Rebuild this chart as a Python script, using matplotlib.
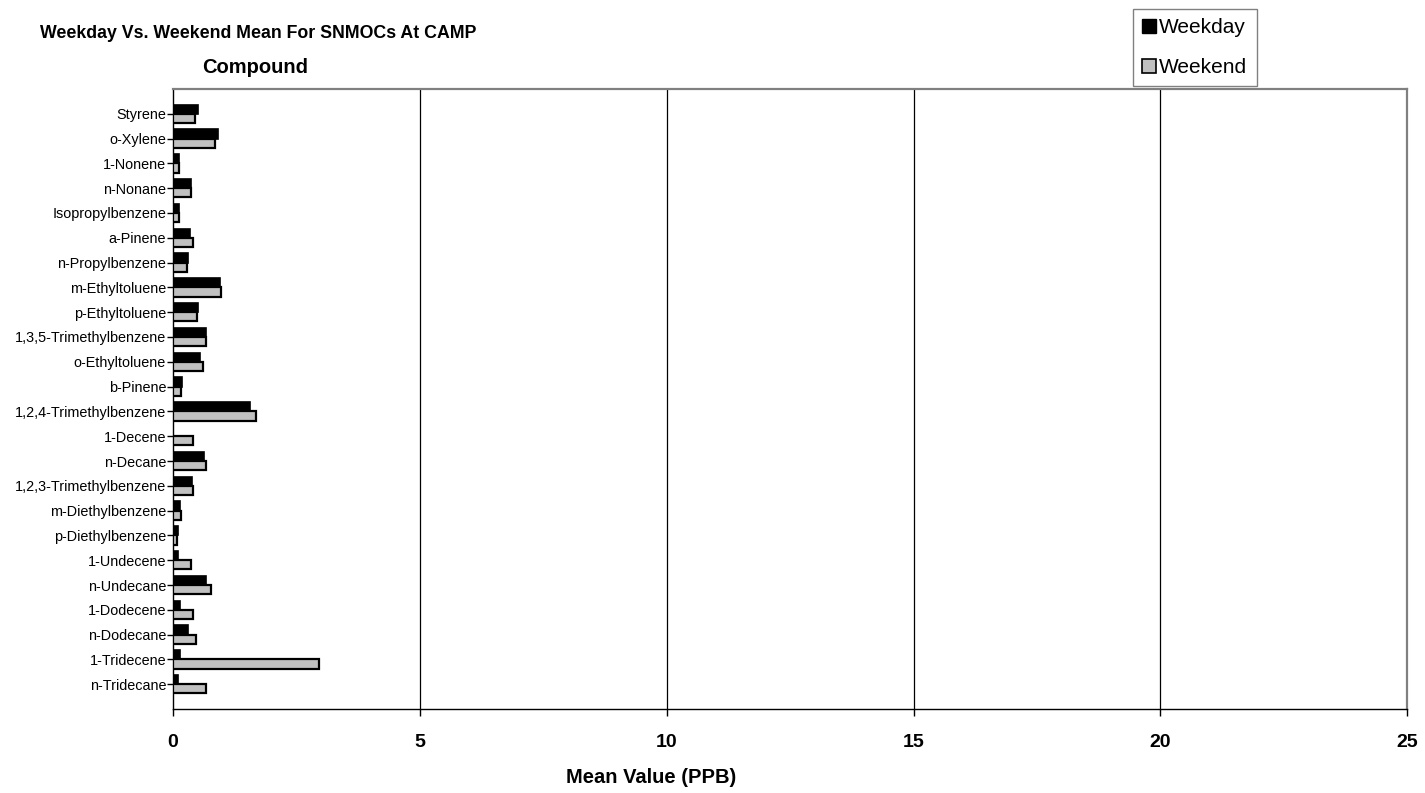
import numpy as np
import matplotlib.pyplot as plt
from matplotlib.patches import Patch

plt.rcParams["font.family"] = ["Liberation Sans", "DejaVu Sans"]

COMPOUNDS = [
    "Styrene", "o-Xylene", "1-Nonene", "n-Nonane", "Isopropylbenzene",
    "a-Pinene", "n-Propylbenzene", "m-Ethyltoluene", "p-Ethyltoluene",
    "1,3,5-Trimethylbenzene", "o-Ethyltoluene", "b-Pinene",
    "1,2,4-Trimethylbenzene", "1-Decene", "n-Decane",
    "1,2,3-Trimethylbenzene", "m-Diethylbenzene", "p-Diethylbenzene",
    "1-Undecene", "n-Undecane", "1-Dodecene", "n-Dodecane",
    "1-Tridecene", "n-Tridecane",
]

WEEKDAY = [
    0.50, 0.91, 0.13, 0.37, 0.13, 0.34, 0.30, 0.95, 0.50, 0.66, 0.54, 0.18,
    1.56, 0.00, 0.62, 0.38, 0.14, 0.10, 0.10, 0.66, 0.14, 0.30, 0.14, 0.10,
]
WEEKEND = [
    0.45, 0.86, 0.12, 0.37, 0.12, 0.41, 0.29, 0.98, 0.49, 0.66, 0.61, 0.17,
    1.68, 0.41, 0.66, 0.41, 0.17, 0.09, 0.37, 0.77, 0.41, 0.46, 2.96, 0.66,
]

X_TICKS = [0, 5, 10, 15, 20, 25]

BAR_H = 0.37


def main():
    fig = plt.figure(figsize=(14.25, 7.93), dpi=100)
    ax = fig.add_axes([0.1214, 0.1059, 0.8661, 0.7819])

    y = np.arange(len(COMPOUNDS))
    ax.barh(y - BAR_H / 2, WEEKDAY, height=BAR_H, color="black",
            edgecolor="black", linewidth=1.2, zorder=3)
    ax.barh(y + BAR_H / 2, WEEKEND, height=BAR_H, color="#c0c0c0",
            edgecolor="black", linewidth=1.6, zorder=3)

    ax.set_ylim(len(COMPOUNDS), -1)
    ax.set_yticks(y)
    ax.set_yticklabels(COMPOUNDS, fontsize=10.4)

    ax.set_xlim(0, 25)
    ax.set_xticks(X_TICKS)
    ax.set_xticklabels([str(t) for t in X_TICKS], fontsize=14, fontweight="bold")
    ax.tick_params(axis="x", length=5, width=1, pad=13)
    ax.tick_params(axis="y", length=4, width=1, pad=1)

    # gridlines at the major ticks, the last one is covered by the frame
    for t in X_TICKS[1:-1]:
        ax.axvline(t, color="black", linewidth=0.9, zorder=1)

    ax.spines["left"].set_color("black")
    ax.spines["bottom"].set_color("black")
    ax.spines["left"].set_linewidth(1.0)
    ax.spines["bottom"].set_linewidth(1.0)
    ax.spines["top"].set_color("#808080")
    ax.spines["right"].set_color("#808080")
    ax.spines["top"].set_linewidth(1.6)
    ax.spines["right"].set_linewidth(1.6)

    fig.text(0.028, 0.958, "Weekday Vs. Weekend Mean For SNMOCs At CAMP",
             fontsize=12.8, fontweight="bold", va="center", ha="left")
    fig.text(0.179, 0.915, "Compound", fontsize=14.5, fontweight="bold",
             va="center", ha="center")
    fig.text(0.457, 0.020, "Mean Value (PPB)", fontsize=14.5,
             fontweight="bold", va="center", ha="center")

    handles = [
        Patch(facecolor="black", edgecolor="black", label="Weekday"),
        Patch(facecolor="#c0c0c0", edgecolor="black", linewidth=1.2, label="Weekend"),
    ]
    leg = fig.legend(handles=handles, loc="upper left",
                     bbox_to_anchor=(0.7951, 0.989), fontsize=15,
                     frameon=True, fancybox=False, borderpad=0.45,
                     handlelength=0.65, handleheight=0.65, handletextpad=0.15,
                     labelspacing=1.0, borderaxespad=0)
    leg.get_frame().set_edgecolor("#606060")
    leg.get_frame().set_linewidth(1.0)

    fig.savefig("out.png", dpi=100)


if __name__ == "__main__":
    main()
